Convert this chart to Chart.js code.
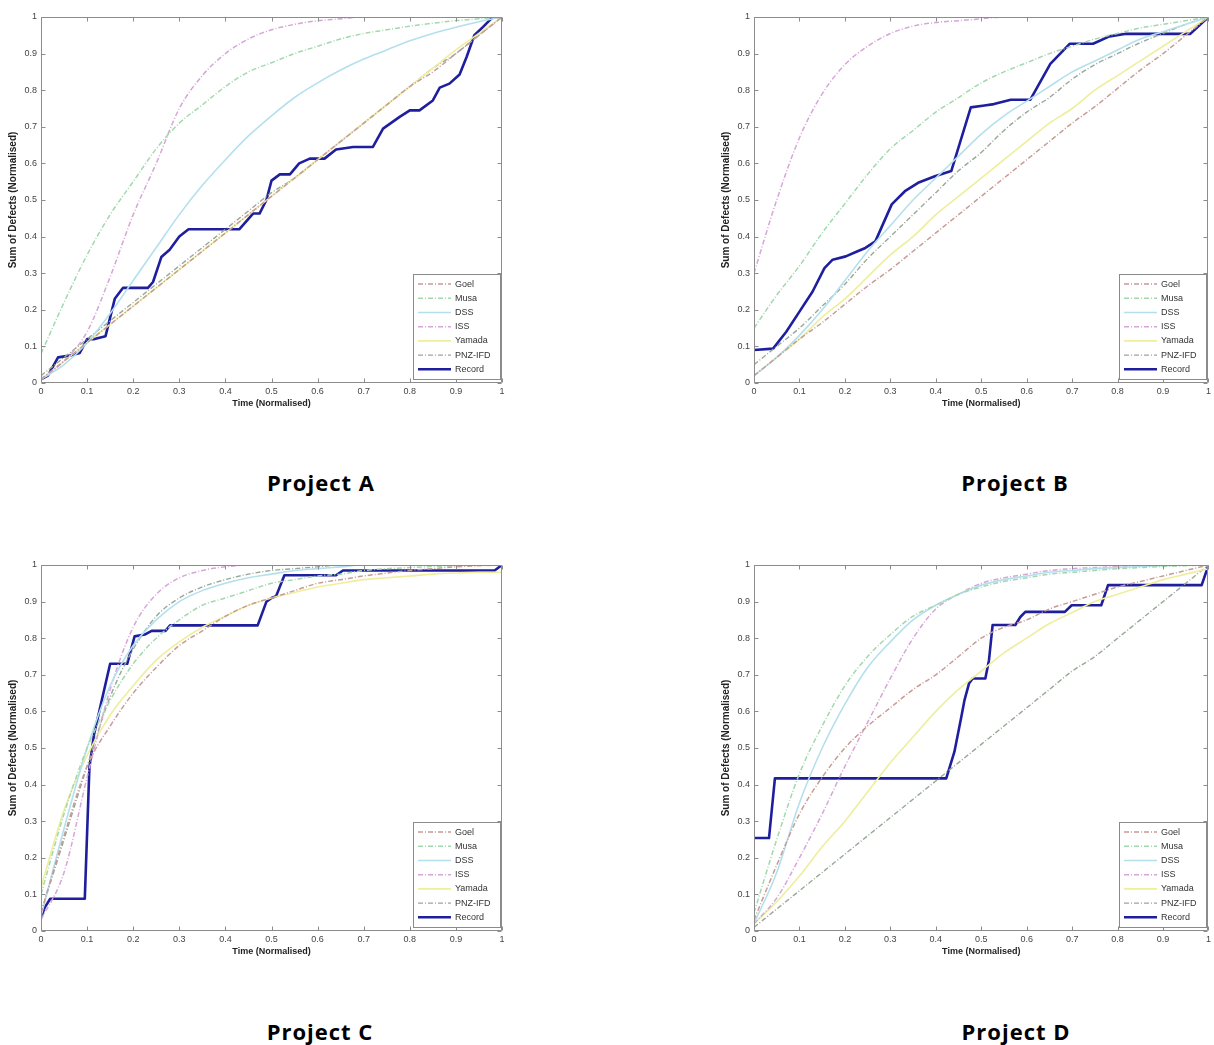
<!DOCTYPE html>
<html><head><meta charset="utf-8">
<script src="https://cdn.jsdelivr.net/npm/chart.js@4.4.0/dist/chart.umd.min.js"></script>
<style>
html,body{margin:0;padding:0;background:#fff;width:1214px;height:1045px;overflow:hidden;position:relative}
.panel{position:absolute}
.cap{position:absolute;font-family:'Open Sans',sans-serif;font-weight:700;font-size:22px;letter-spacing:1px;color:#000;white-space:nowrap;transform:translateX(-50%);line-height:1}
</style></head><body>
<div class="panel" style="left:0;top:0"><canvas id="cA" width="512" height="420"></canvas></div>
<div class="panel" style="left:713px;top:0"><canvas id="cB" width="501" height="420"></canvas></div>
<div class="panel" style="left:0;top:548px"><canvas id="cC" width="512" height="420"></canvas></div>
<div class="panel" style="left:713px;top:548px"><canvas id="cD" width="501" height="420"></canvas></div>
<div class="cap" style="left:321px;top:471px">Project A</div>
<div class="cap" style="left:1015px;top:471px">Project B</div>
<div class="cap" style="left:320px;top:1020px">Project C</div>
<div class="cap" style="left:1016px;top:1020px">Project D</div>
<script>
// ---------- shared categories / ticks ----------
const seriesNames = ['Goel','Musa','DSS','ISS','Yamada','PNZ-IFD','Record'];
const timeGrid = [0,0.05,0.1,0.15,0.2,0.25,0.3,0.35,0.4,0.45,0.5,0.55,0.6,0.65,0.7,0.75,0.8,0.85,0.9,0.95,1];
const tickValues = [0,0.1,0.2,0.3,0.4,0.5,0.6,0.7,0.8,0.9,1];
const xTickLabels = ['0','0.1','0.2','0.3','0.4','0.5','0.6','0.7','0.8','0.9','1'];
const yTickLabels = ['0','0.1','0.2','0.3','0.4','0.5','0.6','0.7','0.8','0.9','1'];
const xTitle = 'Time (Normalised)';
const yTitle = 'Sum of Defects (Normalised)';

// ---------- Project A ----------
const aGoel   = [0.01,0.06,0.11,0.16,0.21,0.26,0.31,0.36,0.41,0.46,0.51,0.56,0.61,0.66,0.71,0.76,0.81,0.85,0.9,0.95,1.0];
const aMusa   = [0.08,0.22,0.35,0.46,0.55,0.64,0.71,0.76,0.81,0.85,0.875,0.9,0.92,0.94,0.955,0.965,0.975,0.983,0.99,0.995,1.0];
const aDss    = [0.01,0.05,0.11,0.19,0.28,0.37,0.46,0.54,0.61,0.675,0.73,0.78,0.82,0.855,0.885,0.91,0.935,0.955,0.972,0.987,1.0];
const aIss    = [0.01,0.06,0.14,0.29,0.46,0.6,0.75,0.84,0.9,0.94,0.965,0.98,0.99,0.995,1,1,1,1,1,1,1];
const aYamada = [0.01,0.06,0.11,0.16,0.21,0.26,0.31,0.36,0.41,0.46,0.51,0.56,0.61,0.66,0.71,0.76,0.81,0.86,0.91,0.955,1.0];
const aPnz    = [0.02,0.07,0.12,0.17,0.22,0.27,0.32,0.37,0.42,0.47,0.52,0.56,0.61,0.66,0.71,0.76,0.81,0.86,0.9,0.95,1.0];
const aRecordT = [0,0.015,0.037,0.066,0.084,0.1,0.116,0.14,0.16,0.178,0.232,0.243,0.261,0.279,0.3,0.32,0.43,0.46,0.474,0.489,0.5,0.518,0.54,0.56,0.583,0.615,0.64,0.677,0.72,0.742,0.778,0.8,0.821,0.85,0.865,0.886,0.908,0.923,0.94,0.959,0.98,1];
const aRecordY = [0.01,0.02,0.07,0.076,0.082,0.12,0.12,0.128,0.23,0.26,0.26,0.276,0.344,0.364,0.4,0.42,0.42,0.463,0.463,0.5,0.553,0.57,0.57,0.6,0.613,0.613,0.638,0.645,0.645,0.695,0.727,0.745,0.745,0.772,0.807,0.818,0.843,0.89,0.95,0.973,1.0,1.0];

// ---------- Project B ----------
const bGoel   = [0.02,0.07,0.12,0.165,0.215,0.265,0.31,0.36,0.41,0.46,0.51,0.56,0.61,0.66,0.71,0.755,0.805,0.855,0.9,0.95,1.0];
const bMusa   = [0.15,0.24,0.32,0.41,0.49,0.57,0.64,0.69,0.74,0.78,0.82,0.85,0.875,0.9,0.92,0.94,0.955,0.97,0.98,0.99,1.0];
const bDss    = [0.02,0.07,0.13,0.2,0.28,0.36,0.43,0.5,0.56,0.62,0.68,0.73,0.77,0.81,0.85,0.88,0.91,0.94,0.96,0.98,1.0];
const bIss    = [0.3,0.5,0.67,0.79,0.87,0.92,0.955,0.975,0.985,0.99,0.995,1,1,1,1,1,1,1,1,1,1];
const bYamada = [0.02,0.07,0.12,0.18,0.23,0.29,0.35,0.4,0.46,0.51,0.56,0.61,0.66,0.71,0.75,0.8,0.84,0.88,0.92,0.96,1.0];
const bPnz    = [0.05,0.1,0.15,0.21,0.27,0.34,0.4,0.46,0.52,0.58,0.63,0.69,0.74,0.78,0.83,0.87,0.9,0.93,0.955,0.98,1.0];
const bRecordT = [0,0.042,0.071,0.1,0.129,0.155,0.173,0.202,0.224,0.245,0.267,0.303,0.332,0.361,0.398,0.434,0.477,0.507,0.528,0.565,0.608,0.652,0.695,0.746,0.782,0.819,0.96,1];
const bRecordY = [0.09,0.094,0.14,0.195,0.25,0.314,0.337,0.346,0.358,0.369,0.387,0.488,0.524,0.547,0.565,0.579,0.753,0.758,0.762,0.774,0.774,0.872,0.927,0.927,0.947,0.954,0.954,1.0];

// ---------- Project C ----------
const cGoel   = [0.05,0.26,0.45,0.56,0.65,0.72,0.78,0.82,0.86,0.89,0.91,0.93,0.95,0.96,0.97,0.978,0.985,0.99,0.995,0.998,1.0];
const cMusa   = [0.1,0.32,0.5,0.63,0.73,0.8,0.85,0.89,0.91,0.93,0.95,0.96,0.97,0.975,0.985,0.99,0.993,0.996,0.998,1,1];
const cDss    = [0.04,0.28,0.5,0.67,0.78,0.85,0.9,0.93,0.95,0.965,0.975,0.985,0.99,0.995,1,1,1,1,1,1,1];
const cIss    = [0.03,0.16,0.42,0.66,0.83,0.92,0.965,0.985,0.995,1,1,1,1,1,1,1,1,1,1,1,1];
const cYamada = [0.12,0.33,0.48,0.59,0.67,0.74,0.79,0.83,0.86,0.89,0.91,0.925,0.94,0.95,0.96,0.965,0.97,0.975,0.978,0.98,0.98];
const cPnz    = [0.05,0.25,0.45,0.64,0.77,0.86,0.91,0.94,0.96,0.975,0.985,0.99,0.995,1,1,1,1,1,1,1,1];
const cRecordT = [0,0.008,0.02,0.095,0.105,0.115,0.13,0.145,0.15,0.187,0.203,0.225,0.24,0.27,0.28,0.47,0.489,0.5,0.51,0.528,0.64,0.655,0.984,1];
const cRecordY = [0.037,0.064,0.088,0.088,0.447,0.537,0.62,0.703,0.73,0.73,0.805,0.81,0.82,0.82,0.835,0.835,0.9,0.91,0.915,0.972,0.972,0.985,0.985,1.0];

// ---------- Project D ----------
const dGoel   = [0.03,0.18,0.32,0.42,0.5,0.56,0.61,0.66,0.7,0.75,0.8,0.83,0.85,0.88,0.9,0.92,0.94,0.955,0.97,0.985,1.0];
const dMusa   = [0.05,0.25,0.43,0.56,0.67,0.75,0.81,0.86,0.89,0.92,0.94,0.955,0.965,0.975,0.98,0.985,0.99,0.993,0.996,0.998,1.0];
const dDss    = [0.02,0.16,0.35,0.5,0.62,0.72,0.79,0.85,0.89,0.92,0.945,0.96,0.97,0.98,0.985,0.99,0.993,0.996,0.998,1,1];
const dIss    = [0.02,0.09,0.2,0.32,0.45,0.57,0.69,0.8,0.88,0.92,0.95,0.965,0.975,0.985,0.99,0.993,0.996,0.998,1,1,1];
const dYamada = [0.02,0.08,0.15,0.23,0.3,0.38,0.46,0.53,0.6,0.66,0.71,0.76,0.8,0.84,0.87,0.9,0.92,0.94,0.96,0.975,0.99];
const dPnz    = [0.01,0.06,0.11,0.16,0.21,0.26,0.31,0.36,0.41,0.46,0.51,0.56,0.61,0.66,0.71,0.75,0.8,0.85,0.9,0.95,1.0];
const dRecordT = [0,0.033,0.046,0.423,0.441,0.456,0.463,0.473,0.481,0.509,0.517,0.525,0.575,0.586,0.597,0.684,0.699,0.764,0.779,0.985,1];
const dRecordY = [0.254,0.254,0.417,0.417,0.49,0.584,0.63,0.676,0.69,0.69,0.74,0.836,0.836,0.858,0.872,0.872,0.89,0.89,0.945,0.945,1];

// ---------- styles ----------
const lineStyles = [
  {color:'#c79c96', width:1.5, dash:[5,2,1,2]},   // Goel
  {color:'#a3d8ae', width:1.5, dash:[5,2,1,2]},   // Musa
  {color:'#b4e0ee', width:1.6, dash:[]},          // DSS
  {color:'#d6a6d8', width:1.5, dash:[5,2,1,2]},   // ISS
  {color:'#eeee9c', width:1.6, dash:[]},          // Yamada
  {color:'#98a898', width:1.4, dash:[5,2,1,2]},   // PNZ-IFD
  {color:'#1f1f9e', width:2.6, dash:[]}           // Record
];

const framePlugin = {
  id:'matlabFrame',
  afterDatasetsDraw(chart){
    const {ctx, chartArea:a, scales:{x, y}} = chart;
    ctx.save();
    ctx.strokeStyle = '#8c8c8c';
    ctx.lineWidth = 1;
    const L = Math.round(a.left)+0.5, R = Math.round(a.right)-0.5, T = Math.round(a.top)+0.5, B = Math.round(a.bottom)-0.5;
    ctx.beginPath();
    ctx.moveTo(L,T); ctx.lineTo(R,T); ctx.lineTo(R,B); ctx.lineTo(L,B); ctx.closePath();
    x.ticks.forEach(t => {
      const px = Math.round(x.getPixelForValue(t.value))+0.5;
      ctx.moveTo(px,B); ctx.lineTo(px,B-4);
      ctx.moveTo(px,T); ctx.lineTo(px,T+4);
    });
    y.ticks.forEach(t => {
      const py = Math.round(y.getPixelForValue(t.value))+0.5;
      ctx.moveTo(L,py); ctx.lineTo(L+4,py);
      ctx.moveTo(R,py); ctx.lineTo(R-4,py);
    });
    ctx.stroke();
    ctx.restore();
  }
};

const legendPlugin = {
  id:'boxLegend',
  afterDraw(chart){
    const {ctx, chartArea:a} = chart;
    const ds = chart.data.datasets;
    const rowH = 14.2, w = 87, h = Math.round(rowH*ds.length + 6);
    const right = Math.round(a.right) - 2, bottom = Math.round(a.bottom) - 4;
    const left = right - w, top = bottom - h;
    ctx.save();
    ctx.fillStyle = '#fff';
    ctx.fillRect(left, top, w, h);
    ctx.strokeStyle = '#8a8a8a';
    ctx.lineWidth = 1;
    ctx.strokeRect(left+0.5, top+0.5, w, h);
    ds.forEach((d, i) => {
      const cy = top + 3 + rowH*(i+0.5);
      ctx.strokeStyle = d.borderColor;
      ctx.lineWidth = d.borderWidth;
      ctx.setLineDash(d.borderDash || []);
      ctx.beginPath(); ctx.moveTo(left+5, cy); ctx.lineTo(left+38, cy); ctx.stroke();
      ctx.setLineDash([]);
      ctx.fillStyle = '#333';
      ctx.font = '9px "Liberation Sans", Arial, sans-serif';
      ctx.textBaseline = 'middle';
      ctx.textAlign = 'left';
      ctx.fillText(d.label, left+42, cy);
    });
    ctx.restore();
  }
};

function pts(xs, ys){ return xs.map((t, i) => ({x:t, y:ys[i]})); }

function makeChart(id, models, recT, recY, padRight){
  const datasets = models.map((arr, i) => ({
    label: seriesNames[i],
    data: pts(timeGrid, arr),
    borderColor: lineStyles[i].color,
    borderWidth: lineStyles[i].width,
    borderDash: lineStyles[i].dash,
    pointRadius: 0,
    fill: false,
    cubicInterpolationMode: 'monotone'
  }));
  datasets.push({
    label: seriesNames[6],
    data: pts(recT, recY),
    borderColor: lineStyles[6].color,
    borderWidth: lineStyles[6].width,
    borderDash: [],
    pointRadius: 0,
    fill: false,
    tension: 0,
    borderJoinStyle: 'round'
  });
  const tickFont = {family:'"Liberation Sans", Arial, sans-serif', size:9};
  return new Chart(document.getElementById(id), {
    type: 'line',
    data: {datasets},
    options: {
      responsive: false,
      animation: false,
      events: [],
      layout: {padding: {top:17, right:padRight, left:0, bottom:0}},
      plugins: {legend:{display:false}, tooltip:{enabled:false}},
      scales: {
        x: {
          type:'linear', min:0, max:1,
          afterBuildTicks(s){ s.ticks = tickValues.map(v => ({value:v})); },
          afterFit(s){ s.height = 37; },
          ticks:{callback:(v,i) => xTickLabels[i], font:tickFont, color:'#444', padding:3, maxRotation:0, autoSkip:false},
          grid:{display:false, drawTicks:false},
          border:{display:false},
          title:{display:true, text:xTitle, color:'#222', font:{family:'"Liberation Sans", Arial, sans-serif', size:9, weight:'bold'}, padding:{top:0, bottom:11}}
        },
        y: {
          type:'linear', min:0, max:1,
          afterBuildTicks(s){ s.ticks = tickValues.map(v => ({value:v})); },
          afterFit(s){ s.width = 41; },
          ticks:{callback:(v,i) => yTickLabels[i], font:tickFont, color:'#444', padding:4, autoSkip:false},
          grid:{display:false, drawTicks:false},
          border:{display:false},
          title:{display:true, text:yTitle, color:'#222', font:{family:'"Liberation Sans", Arial, sans-serif', size:10, weight:'bold'}, padding:{top:7, bottom:0}}
        }
      }
    },
    plugins: [framePlugin, legendPlugin]
  });
}

makeChart('cA', [aGoel,aMusa,aDss,aIss,aYamada,aPnz], aRecordT, aRecordY, 10);
makeChart('cB', [bGoel,bMusa,bDss,bIss,bYamada,bPnz], bRecordT, bRecordY, 0);
makeChart('cC', [cGoel,cMusa,cDss,cIss,cYamada,cPnz], cRecordT, cRecordY, 10);
makeChart('cD', [dGoel,dMusa,dDss,dIss,dYamada,dPnz], dRecordT, dRecordY, 0);
</script>
</body></html>
